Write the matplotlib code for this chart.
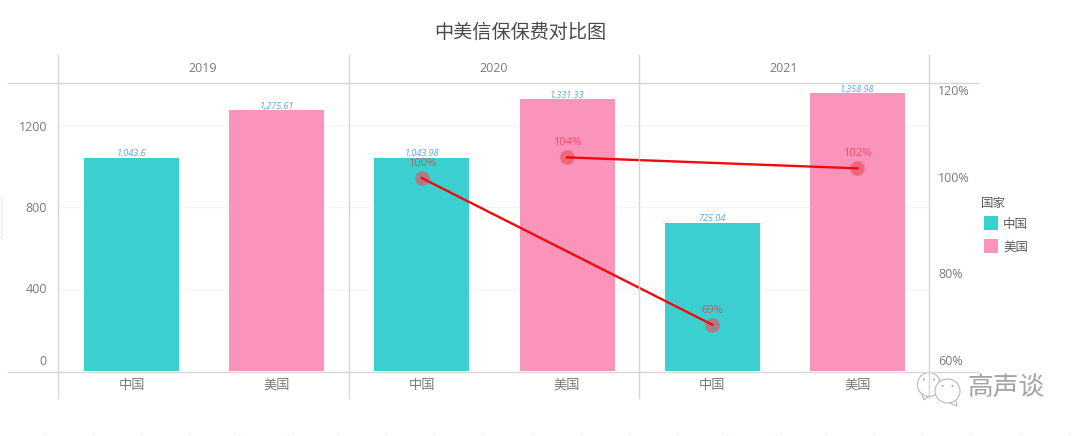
import matplotlib
matplotlib.use("Agg")
import matplotlib.pyplot as plt
from matplotlib.patches import Ellipse, Polygon, FancyBboxPatch, Rectangle
import numpy as np

LATIN_CJK = ['Open Sans', 'Noto Sans CJK SC', 'DejaVu Sans']
plt.rcParams['font.family'] = LATIN_CJK

W, H = 1080, 436
years = ['2019', '2020', '2021']
countries = ['中国', '美国']
china = [1043.6, 1043.98, 725.04]
usa = [1275.61, 1331.33, 1358.98]
value_labels = [['1,043.6', '1,275.61'], ['1,043.98', '1,331.33'], ['725.04', '1,358.98']]
ratio_c = [100.04, 69.45]       # 中国 2020, 2021
ratio_u = [104.37, 102.08]      # 美国 2020, 2021
ratio_labels_c = ['100%', '69%']
ratio_labels_u = ['104%', '102%']
left_ticks = [0, 400, 800, 1200]
right_ticks = [60, 80, 100, 120]

TEAL = '#3bcfd0'
PINK = '#fa94bb'
GREY = '#7a7a7a'
LINE = '#d6d6d6'
PX = 0.72  # points per pixel at dpi 100

def fx(p): return p / W
def fy(p): return 1 - p / H

fig = plt.figure(figsize=(W / 100, H / 100), dpi=100, facecolor='white')
T, B, L, R = 82.0, 371.0, 59.0, 930.0
ax = fig.add_axes([fx(L), fy(B), (R - L) / W, (B - T) / H])
ax.set_facecolor('none')
ax.set_xlim(0, 6)
ax.set_ylim(-1.5, 1413.8)
for s in ax.spines.values():
    s.set_visible(False)
ax.set_yticks([])
ax.set_xticks([])
for v in left_ticks[1:]:
    ax.axhline(v, color='#f5f5f5', lw=1, zorder=0)
for v in left_ticks:
    dy = {0: 9, 800: -1, 1200: -1.5}.get(v, 0)
    ax.annotate(str(v), (0, v), xycoords=ax.get_yaxis_transform(), xytext=(-12 * PX, dy * PX),
                textcoords='offset points', ha='right', va='center', fontsize=9, color=GREY)

BW = 0.655
for i in range(3):
    ax.bar(2 * i + 0.5, china[i], BW, color=TEAL, zorder=2)
    ax.bar(2 * i + 1.5, usa[i], BW, color=PINK, zorder=2)
    ax.annotate(value_labels[i][0], (2 * i + 0.5, china[i]), xytext=(0, -0.5), textcoords='offset points',
                ha='center', va='bottom', fontsize=6.6, style='italic', color='#5aa9e6', zorder=5)
    ax.annotate(value_labels[i][1], (2 * i + 1.5, usa[i]), xytext=(0, -0.5), textcoords='offset points',
                ha='center', va='bottom', fontsize=6.6, style='italic', color='#5aa9e6', zorder=5)

ax2 = ax.twinx()
ax2.set_facecolor('none')
ax2.set_ylim(59.79, 120.1)
for s in ax2.spines.values():
    s.set_visible(False)
ax2.set_yticks([])
for v in right_ticks:
    dy = {60: 8, 120: -9}.get(v, 0)
    ax2.annotate(f'{v}%', (1, v), xycoords=ax2.get_yaxis_transform(), xytext=(8 * PX, dy * PX),
                 textcoords='offset points', ha='left', va='center', fontsize=9, color=GREY)

xc = [2.5, 4.5]
xu = [3.5, 5.5]
for xs, ys, labels, col in [(xc, ratio_c, ratio_labels_c, '#b5606b'), (xu, ratio_u, ratio_labels_u, '#ef4b63')]:
    ax2.scatter(xs, ys, s=110, color='#e8505b', alpha=0.65, linewidths=0, zorder=6)
    ax2.plot(xs, ys, color='#f00a0a', lw=1.7, zorder=7)
    for x, y, t in zip(xs, ys, labels):
        ax2.annotate(t, (x, y), xytext=(0, 6.5), textcoords='offset points', ha='center',
                     va='bottom', fontsize=8, color=col, zorder=8)

# facet frame
for x in [58, 349, 639, 929]:
    fig.add_artist(plt.Line2D([fx(x)] * 2, [fy(55), fy(398)], color=LINE, lw=1.0))
for y in [82.5, 371.5]:
    fig.add_artist(plt.Line2D([fx(8), fx(978)], [fy(y)] * 2, color=LINE, lw=1.0))

for i, y in enumerate(years):
    fig.text(fx(58 + 290.33 * (i + 0.5)), fy(69), y, ha='center', va='center', fontsize=9, color=GREY)
    for j, c in enumerate(countries):
        fig.text(fx(59 + 145.17 * (2 * i + j + 0.5)), fy(385), c, ha='center', va='center',
                 fontsize=9.5, color=GREY)

fig.text(fx(520.5), fy(33), '中美信保保费对比图', ha='center', va='center', fontsize=13.8, color='#4a4a4a')

# legend
fig.text(fx(981), fy(203), '国家', ha='left', va='center', fontsize=9, color='#5c5c5c')
for y, c, t in [(223, TEAL, '中国'), (246.5, PINK, '美国')]:
    fig.add_artist(Rectangle((fx(983.5), fy(y + 7)), 14.5 / W, 14 / H, transform=fig.transFigure,
                             facecolor=c, edgecolor='none'))
    fig.text(fx(1003), fy(y + 1), t, ha='left', va='center', fontsize=9, color='#5c5c5c')

# small UI remnant on left edge
fig.add_artist(FancyBboxPatch((fx(-6), fy(238)), 8 / W, 41 / H, transform=fig.transFigure,
                              boxstyle='round,pad=0,rounding_size=0.003', facecolor='white',
                              edgecolor='#e8e8e8', lw=0.8))

# faint cropped remnants along the bottom edge
for x in np.arange(44, W, 48.8):
    fig.add_artist(plt.Line2D([fx(x)] * 2, [fy(434), fy(436)], color='#f2f2f2', lw=1.0))

# watermark
fig.text(fx(1006), fy(389.5), '高声谈', ha='center', va='center', fontsize=18.5, color='#a3a3a3')
for cx, cy, w, h in [(929, 384.5, 23, 24), (947.5, 391, 25, 24)]:
    fig.add_artist(Ellipse((fx(cx), fy(cy)), w / W, h / H, transform=fig.transFigure,
                           facecolor='white', edgecolor='#b8b8b8', lw=0.8))
    for dx in (-5, 5):
        fig.add_artist(Ellipse((fx(cx + dx), fy(cy - 5)), 2 / W, 2 / H, transform=fig.transFigure,
                               facecolor='#a8a8a8', edgecolor='none'))
fig.add_artist(plt.Line2D([fx(922), fx(924), fx(929)], [fy(395), fy(400), fy(396)], color='#b8b8b8', lw=0.8))
fig.add_artist(plt.Line2D([fx(950), fx(957), fx(956)], [fy(403), fy(406), fy(401)], color='#b8b8b8', lw=0.8))

fig.savefig('out.png', dpi=100, facecolor='white')
